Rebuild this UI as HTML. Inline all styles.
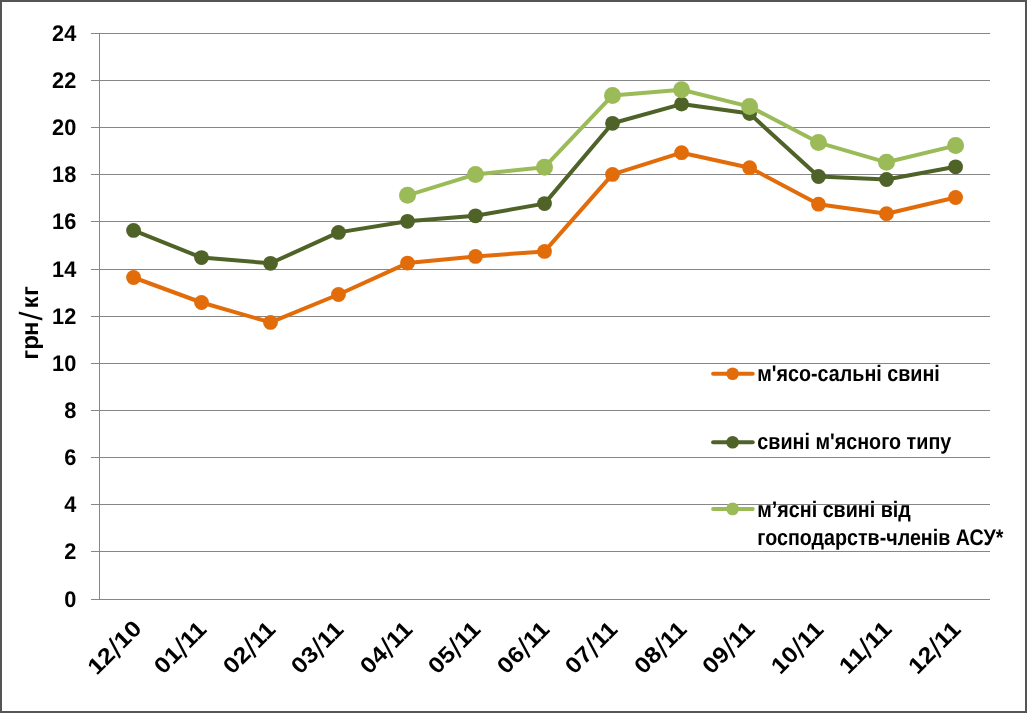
<!DOCTYPE html>
<html lang="uk"><head><meta charset="utf-8"><title>Chart</title>
<style>html,body{margin:0;padding:0;background:#fff}svg{display:block}text{font-family:"Liberation Sans",sans-serif;font-weight:bold;fill:#000;text-rendering:geometricPrecision}</style></head><body>
<svg width="1027" height="713" viewBox="0 0 1027 713">
<rect x="0" y="0" width="1027" height="713" fill="#fff"/>
<g stroke="#868686" stroke-width="1" shape-rendering="crispEdges">
<line x1="91" y1="33.5" x2="990.0" y2="33.5"/>
<line x1="91" y1="80.5" x2="990.0" y2="80.5"/>
<line x1="91" y1="127.5" x2="990.0" y2="127.5"/>
<line x1="91" y1="174.5" x2="990.0" y2="174.5"/>
<line x1="91" y1="221.5" x2="990.0" y2="221.5"/>
<line x1="91" y1="269.5" x2="990.0" y2="269.5"/>
<line x1="91" y1="316.5" x2="990.0" y2="316.5"/>
<line x1="91" y1="363.5" x2="990.0" y2="363.5"/>
<line x1="91" y1="410.5" x2="990.0" y2="410.5"/>
<line x1="91" y1="457.5" x2="990.0" y2="457.5"/>
<line x1="91" y1="504.5" x2="990.0" y2="504.5"/>
<line x1="91" y1="551.5" x2="990.0" y2="551.5"/>
<line x1="91" y1="599.5" x2="990.0" y2="599.5"/>
<line x1="99.5" y1="33" x2="99.5" y2="600"/>
</g>
<g font-size="22.6" text-anchor="end">
<text x="76.3" y="41.1" textLength="24.2" lengthAdjust="spacingAndGlyphs">24</text>
<text x="76.3" y="88.1" textLength="24.2" lengthAdjust="spacingAndGlyphs">22</text>
<text x="76.3" y="135.1" textLength="24.2" lengthAdjust="spacingAndGlyphs">20</text>
<text x="76.3" y="182.1" textLength="24.2" lengthAdjust="spacingAndGlyphs">18</text>
<text x="76.3" y="229.1" textLength="24.2" lengthAdjust="spacingAndGlyphs">16</text>
<text x="76.3" y="277.1" textLength="24.2" lengthAdjust="spacingAndGlyphs">14</text>
<text x="76.3" y="324.1" textLength="24.2" lengthAdjust="spacingAndGlyphs">12</text>
<text x="76.3" y="371.1" textLength="24.2" lengthAdjust="spacingAndGlyphs">10</text>
<text x="76.3" y="418.1" textLength="12.1" lengthAdjust="spacingAndGlyphs">8</text>
<text x="76.3" y="465.1" textLength="12.1" lengthAdjust="spacingAndGlyphs">6</text>
<text x="76.3" y="512.1" textLength="12.1" lengthAdjust="spacingAndGlyphs">4</text>
<text x="76.3" y="559.1" textLength="12.1" lengthAdjust="spacingAndGlyphs">2</text>
<text x="76.3" y="607.1" textLength="12.1" lengthAdjust="spacingAndGlyphs">0</text>
</g>
<text font-size="24" transform="translate(38.0 358.6) rotate(-90)"><tspan x="-1.18 8.82 22.72">грн</tspan><tspan x="38.2" dy="3.6" font-size="32" font-weight="normal">/</tspan><tspan x="50.14 62.62" dy="-3.6">кг</tspan></text>
<g font-size="22.6" text-anchor="end">
<text transform="translate(142.95 629.8) rotate(-45)" textLength="65.5" lengthAdjust="spacingAndGlyphs">12<tspan font-size="29" font-weight="normal" dy="3.4">/</tspan><tspan dy="-3.4">10</tspan></text>
<text transform="translate(207.90 630.6) rotate(-45)" textLength="63" lengthAdjust="spacingAndGlyphs">01<tspan font-size="29" font-weight="normal" dy="3.4">/</tspan><tspan dy="-3.4">11</tspan></text>
<text transform="translate(276.90 630.6) rotate(-45)" textLength="63" lengthAdjust="spacingAndGlyphs">02<tspan font-size="29" font-weight="normal" dy="3.4">/</tspan><tspan dy="-3.4">11</tspan></text>
<text transform="translate(344.90 630.6) rotate(-45)" textLength="63" lengthAdjust="spacingAndGlyphs">03<tspan font-size="29" font-weight="normal" dy="3.4">/</tspan><tspan dy="-3.4">11</tspan></text>
<text transform="translate(413.90 630.6) rotate(-45)" textLength="63" lengthAdjust="spacingAndGlyphs">04<tspan font-size="29" font-weight="normal" dy="3.4">/</tspan><tspan dy="-3.4">11</tspan></text>
<text transform="translate(481.90 630.6) rotate(-45)" textLength="63" lengthAdjust="spacingAndGlyphs">05<tspan font-size="29" font-weight="normal" dy="3.4">/</tspan><tspan dy="-3.4">11</tspan></text>
<text transform="translate(550.90 630.6) rotate(-45)" textLength="63" lengthAdjust="spacingAndGlyphs">06<tspan font-size="29" font-weight="normal" dy="3.4">/</tspan><tspan dy="-3.4">11</tspan></text>
<text transform="translate(618.90 630.6) rotate(-45)" textLength="63" lengthAdjust="spacingAndGlyphs">07<tspan font-size="29" font-weight="normal" dy="3.4">/</tspan><tspan dy="-3.4">11</tspan></text>
<text transform="translate(687.95 630.6) rotate(-45)" textLength="63" lengthAdjust="spacingAndGlyphs">08<tspan font-size="29" font-weight="normal" dy="3.4">/</tspan><tspan dy="-3.4">11</tspan></text>
<text transform="translate(756.00 630.6) rotate(-45)" textLength="63" lengthAdjust="spacingAndGlyphs">09<tspan font-size="29" font-weight="normal" dy="3.4">/</tspan><tspan dy="-3.4">11</tspan></text>
<text transform="translate(824.90 630.6) rotate(-45)" textLength="63" lengthAdjust="spacingAndGlyphs">10<tspan font-size="29" font-weight="normal" dy="3.4">/</tspan><tspan dy="-3.4">11</tspan></text>
<text transform="translate(892.90 630.6) rotate(-45)" textLength="63" lengthAdjust="spacingAndGlyphs">11<tspan font-size="29" font-weight="normal" dy="3.4">/</tspan><tspan dy="-3.4">11</tspan></text>
<text transform="translate(962.00 630.6) rotate(-45)" textLength="63" lengthAdjust="spacingAndGlyphs">12<tspan font-size="29" font-weight="normal" dy="3.4">/</tspan><tspan dy="-3.4">11</tspan></text>
</g>
<polyline fill="none" stroke="#E36C0A" stroke-width="4" stroke-linejoin="round" stroke-linecap="round" points="133.55,277.5 201.50,302.5 270.50,322.4 338.50,294.5 407.50,263.1 475.50,256.4 544.50,251.4 612.50,174.4 681.55,152.7 749.60,167.7 818.50,204.2 886.50,213.7 955.60,197.5"/>
<g fill="#E36C0A"><circle cx="133.55" cy="277.5" r="7.4"/><circle cx="201.50" cy="302.5" r="7.4"/><circle cx="270.50" cy="322.4" r="7.4"/><circle cx="338.50" cy="294.5" r="7.4"/><circle cx="407.50" cy="263.1" r="7.4"/><circle cx="475.50" cy="256.4" r="7.4"/><circle cx="544.50" cy="251.4" r="7.4"/><circle cx="612.50" cy="174.4" r="7.4"/><circle cx="681.55" cy="152.7" r="7.4"/><circle cx="749.60" cy="167.7" r="7.4"/><circle cx="818.50" cy="204.2" r="7.4"/><circle cx="886.50" cy="213.7" r="7.4"/><circle cx="955.60" cy="197.5" r="7.4"/></g>
<polyline fill="none" stroke="#4F6228" stroke-width="4" stroke-linejoin="round" stroke-linecap="round" points="133.55,230.4 201.50,257.6 270.50,263.3 338.50,232.4 407.50,221.3 475.50,215.8 544.50,203.6 612.50,123.3 681.55,104.1 749.60,113.6 818.50,176.5 886.50,179.5 955.60,166.8"/>
<g fill="#4F6228"><circle cx="133.55" cy="230.4" r="7.4"/><circle cx="201.50" cy="257.6" r="7.4"/><circle cx="270.50" cy="263.3" r="7.4"/><circle cx="338.50" cy="232.4" r="7.4"/><circle cx="407.50" cy="221.3" r="7.4"/><circle cx="475.50" cy="215.8" r="7.4"/><circle cx="544.50" cy="203.6" r="7.4"/><circle cx="612.50" cy="123.3" r="7.4"/><circle cx="681.55" cy="104.1" r="7.4"/><circle cx="749.60" cy="113.6" r="7.4"/><circle cx="818.50" cy="176.5" r="7.4"/><circle cx="886.50" cy="179.5" r="7.4"/><circle cx="955.60" cy="166.8" r="7.4"/></g>
<polyline fill="none" stroke="#9BBB59" stroke-width="4" stroke-linejoin="round" stroke-linecap="round" points="407.50,195.3 475.50,174.4 544.50,167.2 612.50,95.4 681.55,89.7 749.60,106.6 818.50,142.6 886.50,162.3 955.60,145.6"/>
<g fill="#9BBB59"><circle cx="407.50" cy="195.3" r="8.5"/><circle cx="475.50" cy="174.4" r="8.5"/><circle cx="544.50" cy="167.2" r="8.5"/><circle cx="612.50" cy="95.4" r="8.5"/><circle cx="681.55" cy="89.7" r="8.5"/><circle cx="749.60" cy="106.6" r="8.5"/><circle cx="818.50" cy="142.6" r="8.5"/><circle cx="886.50" cy="162.3" r="8.5"/><circle cx="955.60" cy="145.6" r="8.5"/></g>
<line x1="713.1" y1="373.7" x2="752.7" y2="373.7" stroke="#E36C0A" stroke-width="4" stroke-linecap="round"/>
<circle cx="732.6" cy="373.7" r="6.3" fill="#E36C0A"/>
<line x1="713.1" y1="442.2" x2="752.7" y2="442.2" stroke="#4F6228" stroke-width="4" stroke-linecap="round"/>
<circle cx="732.6" cy="442.2" r="6.3" fill="#4F6228"/>
<line x1="713.1" y1="508.9" x2="752.7" y2="508.9" stroke="#9BBB59" stroke-width="4" stroke-linecap="round"/>
<circle cx="732.6" cy="508.9" r="6.4" fill="#9BBB59"/>
<g font-size="22.4">
<text x="757.3" y="380.6" textLength="182.5" lengthAdjust="spacingAndGlyphs">м'ясо-сальні свині</text>
<text x="757.3" y="448.8" textLength="194" lengthAdjust="spacingAndGlyphs">свині м'ясного типу</text>
<text x="757.3" y="517.2" textLength="153.5" lengthAdjust="spacingAndGlyphs">м’ясні свині від</text>
<text x="757.3" y="544.9" textLength="246" lengthAdjust="spacingAndGlyphs">господарств-членів АСУ*</text>
</g>
<path d="M0 0H1027V713H0Z M2 2V711H1025V2Z" fill="#555" fill-rule="evenodd" shape-rendering="crispEdges"/>
</svg></body></html>
